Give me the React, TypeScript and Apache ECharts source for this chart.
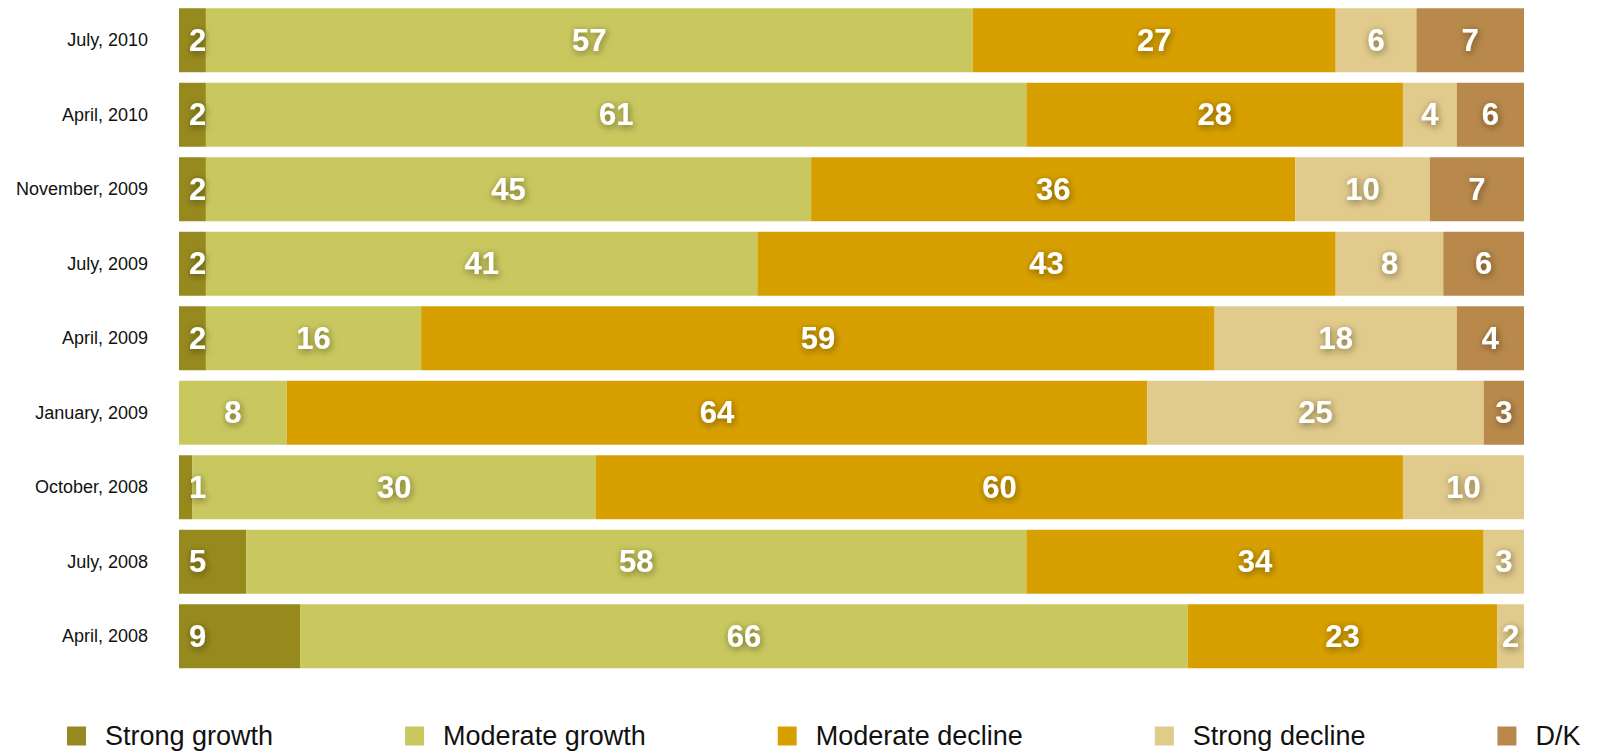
import React, { useEffect, useRef } from "react";
import * as echarts from "echarts";

const categories = [
  "July, 2010",
  "April, 2010",
  "November, 2009",
  "July, 2009",
  "April, 2009",
  "January, 2009",
  "October, 2008",
  "July, 2008",
  "April, 2008",
];

const seriesNames = ["Strong growth", "Moderate growth", "Moderate decline", "Strong decline", "D/K"];

const strongGrowth = [2, 2, 2, 2, 2, null, 1, 5, 9];
const moderateGrowth = [57, 61, 45, 41, 16, 8, 30, 58, 66];
const moderateDecline = [27, 28, 36, 43, 59, 64, 60, 34, 23];
const strongDecline = [6, 4, 10, 8, 18, 25, 10, 3, 2];
const dontKnow = [7, 6, 7, 6, 4, 3, null, null, null];

const colors = ["#968a1e", "#c9c85f", "#d7a000", "#e0ca8c", "#b8894b"];

const FONT = "'Liberation Sans', Arial, Helvetica, sans-serif";

export default function App() {
  const ref = useRef<HTMLDivElement>(null);

  useEffect(() => {
    if (!ref.current) return;
    const chart = echarts.init(ref.current, null, { renderer: "svg" });
    const all = [strongGrowth, moderateGrowth, moderateDecline, strongDecline, dontKnow];

    // the last segment of each row fills the bar up to 100%
    const widths = all.map((arr) => arr.map((v) => v));
    categories.forEach((_, i) => {
      let last = -1;
      let sum = 0;
      all.forEach((arr, s) => {
        if (arr[i] != null) last = s;
      });
      all.forEach((arr, s) => {
        if (s !== last && arr[i] != null) sum += arr[i] as number;
      });
      if (last >= 0) widths[last][i] = 100 - sum;
    });

    const series = all.map((arr, s) => ({
      name: seriesNames[s],
      type: "bar",
      stack: "total",
      barWidth: 64,
      itemStyle: { color: colors[s] },
      data: arr.map((v, i) => (v == null ? null : widths[s][i])),
      label: {
        show: true,
        position: s === 0 ? "insideLeft" : "inside",
        distance: s === 0 ? 10 : 5,
        color: "#ffffff",
        fontSize: 31,
        fontWeight: "bold",
        fontFamily: FONT,
        textShadowColor: "rgba(40,35,0,0.55)",
        textShadowBlur: 7,
        textShadowOffsetX: 1,
        textShadowOffsetY: 2,
        formatter: (p: any) => {
          const v = arr[p.dataIndex];
          return v == null ? "" : String(v);
        },
      },
      emphasis: { disabled: true },
    }));

    chart.setOption({
      animation: false,
      color: colors,
      grid: { left: 179, right: 75, top: 3, bottom: 77.5, containLabel: false },
      legend: {
        left: 62,
        top: 716,
        itemGap: 132,
        itemWidth: 19,
        itemHeight: 19,
        icon: "rect",
        textStyle: {
          fontSize: 27,
          color: "#111",
          fontFamily: FONT,
          lineHeight: 30,
          padding: [0, 0, 0, 14],
        },
        data: seriesNames,
      },
      xAxis: { type: "value", min: 0, max: 100, show: false },
      yAxis: {
        type: "category",
        inverse: true,
        data: categories,
        axisLine: { show: false },
        axisTick: { show: false },
        splitLine: { show: false },
        axisLabel: { fontSize: 18, color: "#111", fontFamily: FONT, margin: 31 },
      },
      series,
    });
    return () => chart.dispose();
  }, []);

  return (
    <div
      ref={ref}
      style={{ position: "fixed", left: 0, top: 0, width: 1599, height: 751, background: "#fff" }}
    />
  );
}
